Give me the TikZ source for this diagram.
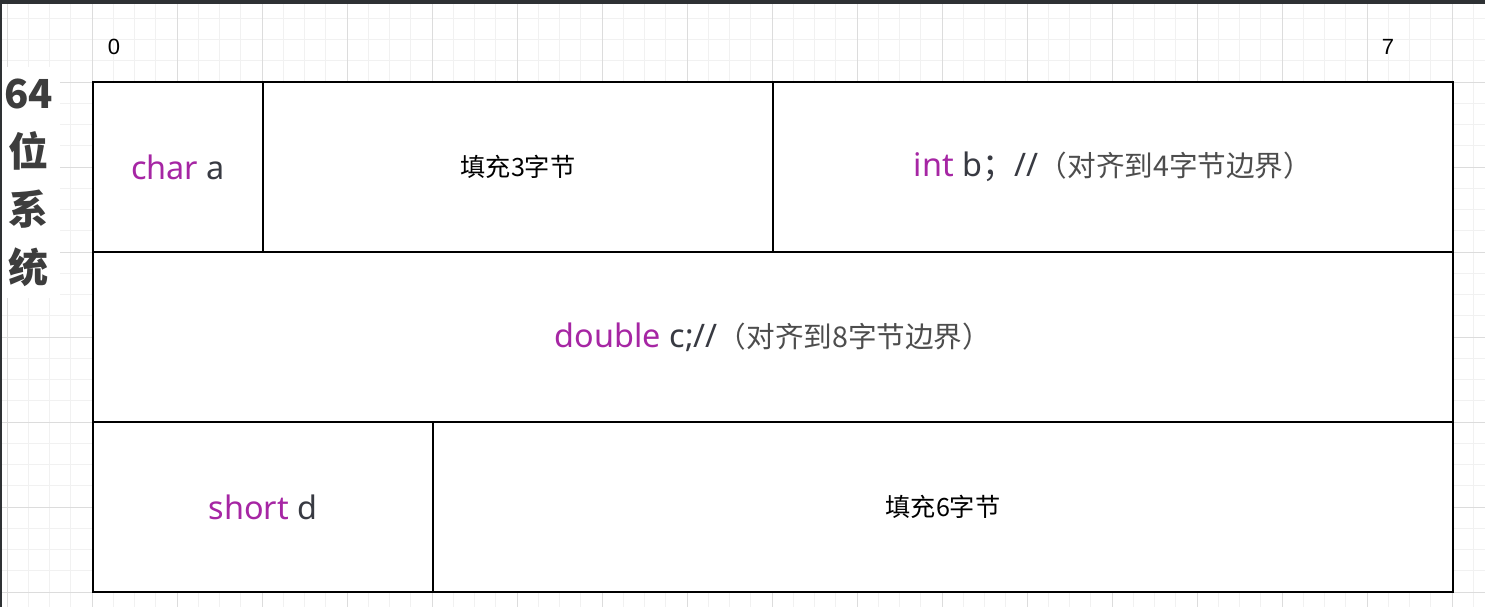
\documentclass[tikz,border=0pt]{standalone}
\usepackage{fontspec}
\setmainfont{Noto Sans}
\newfontfamily\cjk{Noto Sans CJK SC}
\newfontfamily\rulerfont{Liberation Sans}
\usepackage{xcolor}
\usepackage{tikz}
\usetikzlibrary{positioning}
\definecolor{kwpurple}{HTML}{A626A4}
\definecolor{codegray}{HTML}{383A42}
\definecolor{cmtgray}{HTML}{4D4D4D}
\definecolor{labelgray}{HTML}{3D3D3D}
\definecolor{barDark}{HTML}{2E3134}
\definecolor{gridMinor}{HTML}{F1F1F1}
\definecolor{gridMajor}{HTML}{DCDCDC}
\newcommand{\kw}[1]{\textcolor{kwpurple}{#1}}
\newcommand{\cmt}[1]{{\cjk\fontsize{14.3}{16}\selectfont\color{cmtgray}#1}}
\tikzstyle{cell} = [rectangle, draw=black, line width=1pt, fill=white, minimum width=#1, minimum height=85pt, inner sep=0pt, outer sep=0pt, text=codegray, font=\fontsize{16.2}{19}\selectfont]
\tikzstyle{padcell} = [cell=#1, text=black, font=\cjk\fontsize{12.6}{15}\selectfont]
\tikzstyle{ruler} = [font=\rulerfont\fontsize{11}{13}\selectfont, inner sep=0pt]

\begin{document}
\begin{tikzpicture}[x=0.5pt, y=-0.5pt]
        \useasboundingbox (0,0) rectangle (1485,607);
        % grid paper
        \foreach \i in {0,...,69} \draw [gridMinor, line width=0.5pt] ({7+21.25*\i},0) -- ({7+21.25*\i},607);
        \foreach \i in {1,...,29} \draw [gridMinor, line width=0.5pt] (0,{-3+21.25*\i}) -- (1485,{-3+21.25*\i});
        \foreach \i in {0,...,17} \draw [gridMajor, line width=0.5pt] ({7+85*\i},0) -- ({7+85*\i},607);
        \foreach \i in {0,...,7} \draw [gridMajor, line width=0.5pt] (0,{-3+85*\i}) -- (1485,{-3+85*\i});

        \node (zero) [ruler] at (114,47) {0};
        \node (seven) [ruler] at (1388,47) {7};
        \node (sys) [fill=white, minimum width=24pt, minimum height=115.5pt, align=center, text=labelgray,
                     font=\cjk\bfseries\fontsize{20}{29}\selectfont] at (29,182.5) {64\\位\\系\\统};
        \fill [barDark] (0,0) rectangle (1485,4);
        \fill [barDark] (0,0) rectangle (2,607);

        % first 8 bytes
        \node (chara) [cell=85pt, anchor=north west] at (93,82) {\kw{char} a};
        \node (pad3) [padcell=255pt, right=0pt of chara] {填充3字节};
        \node (intb) [cell=340pt, right=0pt of pad3] {\kw{int} b{\cjk ；}//\cmt{（对齐到4字节边界）}};
        % second 8 bytes
        \node (doublec) [cell=680pt, below=0pt of chara.south west, anchor=north west] {\kw{double} c;//\cmt{（对齐到8字节边界）}};
        % third 8 bytes
        \node (shortd) [cell=170pt, below=0pt of doublec.south west, anchor=north west] {\kw{short} d};
        \node (pad6) [padcell=510pt, right=0pt of shortd] {填充6字节};
    \end{tikzpicture}
\end{document}
